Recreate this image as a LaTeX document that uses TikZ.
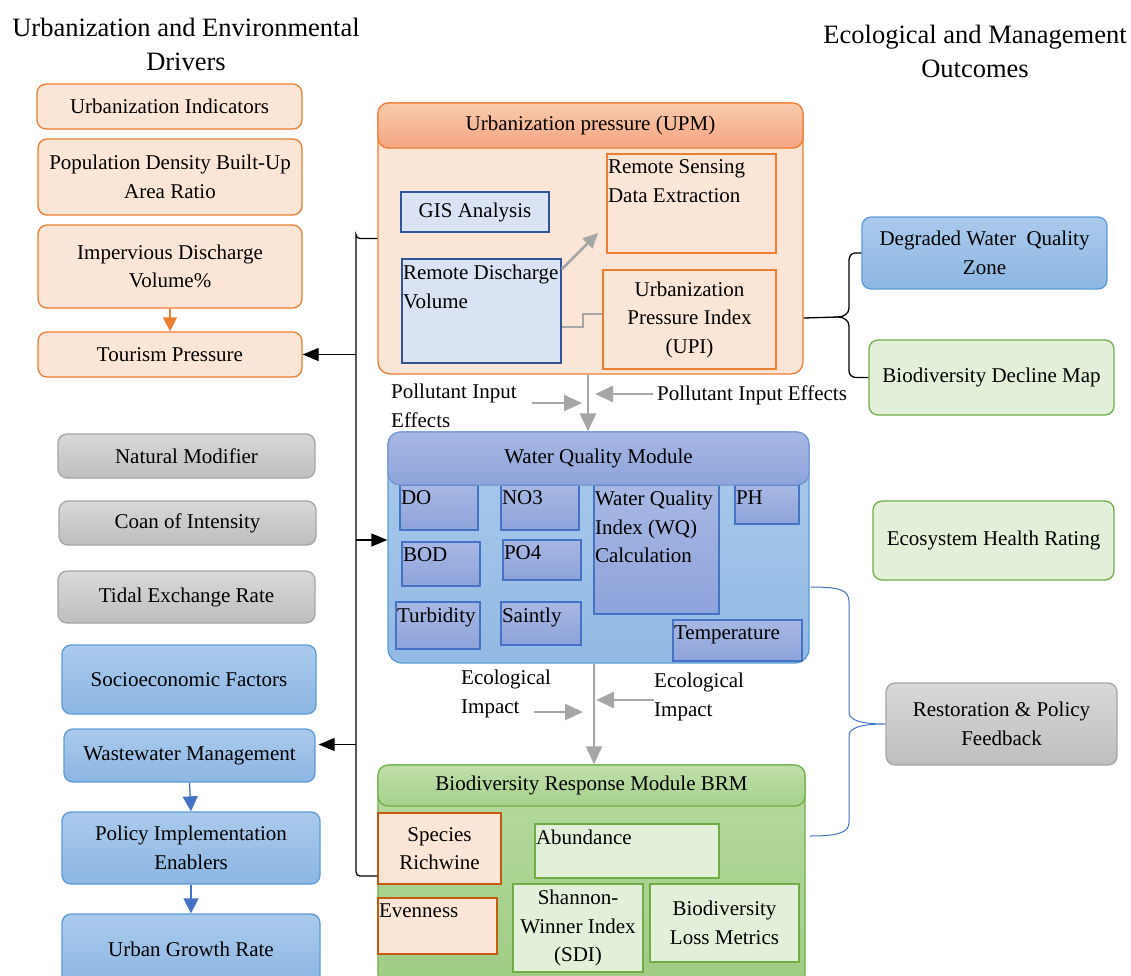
\documentclass[tikz,border=0pt]{standalone}
\usepackage{fontspec}
\setmainfont{Liberation Serif}
\usetikzlibrary{arrows.meta}
\definecolor{orFill}{HTML}{FBE5D6}
\definecolor{orLine}{HTML}{ED7D31}
\definecolor{orDark}{HTML}{C55A11}
\definecolor{orHeadTop}{HTML}{F8CBAD}
\definecolor{orHeadBot}{HTML}{F4A582}
\definecolor{grTop}{HTML}{D8D8D8}
\definecolor{grBot}{HTML}{BEBEBE}
\definecolor{grLine}{HTML}{A5A5A5}
\definecolor{blTop}{HTML}{AACAEC}
\definecolor{blBot}{HTML}{8DB6E3}
\definecolor{blLine}{HTML}{5B9BD5}
\definecolor{pvTop}{HTML}{A8B8E4}
\definecolor{pvBot}{HTML}{8DA3DA}
\definecolor{pvLine}{HTML}{4472C4}
\definecolor{ltGreen}{HTML}{E2F0D9}
\definecolor{gnLine}{HTML}{70AD47}
\definecolor{gnTop}{HTML}{B7DAA1}
\definecolor{gnBot}{HTML}{9FCC83}
\definecolor{gnHeadTop}{HTML}{BFDFAA}
\definecolor{gnHeadBot}{HTML}{A6D18C}
\definecolor{paleBlue}{HTML}{DAE3F3}
\definecolor{navyLine}{HTML}{2F5597}
\definecolor{arGray}{HTML}{A6A6A6}
\begin{document}
\begin{tikzpicture}[x=1pt, y=-1pt,
        every node/.style={font=\fontsize{21}{28.5}\selectfont},
        headtxt/.style={font=\fontsize{26.5}{34}\selectfont, align=center},
        box/.style={rectangle, draw, line width=1.3pt, align=center, inner sep=2pt},
        orbox/.style={box, rounded corners=9pt, fill=orFill, draw=orLine},
        grbox/.style={box, rounded corners=9pt, top color=grTop, bottom color=grBot, draw=grLine},
        blbox/.style={box, rounded corners=9pt, top color=blTop, bottom color=blBot, draw=blLine},
        lgbox/.style={box, rounded corners=9pt, fill=ltGreen, draw=gnLine},
        sqbox/.style={box, rounded corners=0pt},
        wqitem/.style={sqbox, top color=pvTop, bottom color=pvBot, draw=pvLine},
        tl/.style={label={[anchor=north west, inner sep=1.5pt, yshift=-5pt, align=left]north west:#1}},
        karrow/.style={-{Triangle[length=16pt, width=13pt]}, line width=1.3pt},
        garrow/.style={-{Triangle[length=18pt, width=16pt]}, line width=2.5pt, draw=arGray, color=arGray},
        oarrow/.style={-{Triangle[length=14pt, width=14pt]}, line width=1.3pt, draw=orLine, color=orLine},
        barrow/.style={-{Triangle[length=15pt, width=15pt]}, line width=1.3pt, draw=pvLine, color=pvLine},
        note/.style={align=left, anchor=west, inner sep=1pt}
      ]
      \path[use as bounding box, clip] (0,0) rectangle (1131,975);

      % column headings
      \node[headtxt] (hdrivers) at (186,44) {Urbanization and Environmental\\Drivers};
      \node[headtxt] (houtcomes) at (975,51) {Ecological and Management\\Outcomes};

      % drivers
      \node[orbox, minimum width=265, minimum height=45] (ind) at (169.5,106.5) {Urbanization Indicators};
      \node[orbox, minimum width=264, minimum height=76] (pop) at (170,177) {Population Density Built-Up\\Area Ratio};
      \node[orbox, minimum width=264, minimum height=83] (imp) at (170,266.5) {Impervious Discharge\\Volume\%};
      \node[orbox, minimum width=264, minimum height=45] (tour) at (170,354.5) {Tourism Pressure};
      \node[grbox, minimum width=257, minimum height=44] (nat) at (186.5,456) {Natural Modifier};
      \node[grbox, minimum width=257, minimum height=44] (coan) at (187.5,523) {Coan of Intensity};
      \node[grbox, minimum width=257, minimum height=52] (tidal) at (186.5,597) {Tidal Exchange Rate};
      \node[blbox, minimum width=254, minimum height=69] (socio) at (189,679.5) {Socioeconomic Factors};
      \node[blbox, minimum width=251, minimum height=53] (waste) at (189.5,755.5) {Wastewater Management};
      \node[blbox, minimum width=258, minimum height=72] (policy) at (191,848) {Policy Implementation\\Enablers};
      \node[blbox, minimum width=258, minimum height=70] (growth) at (191,949) {Urban Growth Rate};
      \draw[oarrow] (imp.south) -- (tour.north);
      \draw[barrow] (waste.south) -- (policy.north);
      \draw[barrow] (policy.south) -- (growth.north);

      % urbanization pressure module
      \node[orbox, rounded corners=12pt, minimum width=425, minimum height=271] (upm) at (590.5,238.5) {};
      \node[box, rounded corners=10pt, top color=orHeadTop, bottom color=orHeadBot, draw=orLine,
        minimum width=425, minimum height=45] (upmhead) at (590.5,125.5) {Urbanization pressure (UPM)};
      \node[sqbox, fill=paleBlue, draw=navyLine, minimum width=148, minimum height=40] (gis) at (475,212) {GIS Analysis};
      \node[sqbox, fill=paleBlue, draw=navyLine, minimum width=159, minimum height=104,
        tl={Remote Discharge\\Volume}] (rdv) at (481.5,311) {};
      \node[sqbox, fill=orFill, draw=orLine, minimum width=169, minimum height=99,
        tl={Remote Sensing\\Data Extraction}] (rsd) at (691.5,203.5) {};
      \node[sqbox, fill=orFill, draw=orLine, minimum width=173, minimum height=99] (upi) at (689.5,319.5)
      {Urbanization\\Pressure Index\\(UPI)};
      \coordinate (rsdtip) at (598,233);
      \draw[garrow, -{Triangle[length=15pt, width=14pt]}] ([yshift=-11pt]rdv.north east) -- (rsdtip);
      \draw[line width=2.5pt, draw=arGray] ([yshift=-16pt]rdv.east) -| (583,314) -- ([yshift=5.5pt]upi.west);

      % water quality module
      \node[box, rounded corners=14pt, top color=blTop, bottom color=blBot!95!white, draw=blLine,
        minimum width=421, minimum height=231] (wqm) at (598.5,547.5) {};
      \node[wqitem, minimum width=78, minimum height=45, tl=DO] (do) at (439,507.5) {};
      \node[wqitem, minimum width=78, minimum height=45, tl=NO3] (no3) at (540,507.5) {};
      \node[wqitem, minimum width=125, minimum height=129,
        tl={Water Quality\\Index (WQ)\\Calculation}] (wqi) at (656.5,549.5) {};
      \node[wqitem, minimum width=64, minimum height=39, tl=PH] (ph) at (767,504.5) {};
      \node[wqitem, minimum width=78, minimum height=44, tl=BOD] (bod) at (441,564) {};
      \node[wqitem, minimum width=78, minimum height=40, tl=PO4] (po4) at (542,560) {};
      \node[wqitem, minimum width=84, minimum height=47, tl=Turbidity] (turb) at (438,625.5) {};
      \node[wqitem, minimum width=80, minimum height=43, tl=Saintly] (saint) at (541,623.5) {};
      \node[wqitem, minimum width=129, minimum height=41, tl=Temperature] (temp) at (737.5,640.5) {};
      \node[box, rounded corners=12pt, top color=pvTop, bottom color=pvBot, draw=pvLine!75!white,
        minimum width=421, minimum height=53] (wqmhead) at (598.5,458.5) {Water Quality Module};

      % biodiversity response module
      \node[box, rounded corners=14pt, top color=gnTop, bottom color=gnBot, draw=gnLine,
        minimum width=427, minimum height=222] (brm) at (591.5,876) {};
      \node[box, rounded corners=10pt, top color=gnHeadTop, bottom color=gnHeadBot, draw=gnLine,
        minimum width=427, minimum height=41] (brmhead) at (591.5,785.5) {Biodiversity Response Module BRM};
      \node[sqbox, fill=orFill, draw=orDark, minimum width=123, minimum height=71] (spr) at (439.5,848.5) {Species\\Richwine};
      \node[sqbox, fill=orFill, draw=orDark, minimum width=119, minimum height=56, tl=Evenness] (even) at (437.5,926) {};
      \node[sqbox, fill=ltGreen, draw=gnLine, minimum width=184, minimum height=54, tl=Abundance] (abund) at (627,851) {};
      \node[sqbox, fill=ltGreen, draw=gnLine, minimum width=130, minimum height=88] (sdi) at (578,928) {Shannon-\\Winner Index\\(SDI)};
      \node[sqbox, fill=ltGreen, draw=gnLine, minimum width=149, minimum height=78] (blm) at (724.5,923) {Biodiversity\\Loss Metrics};

      % flow between modules
      \draw[garrow] ([xshift=-2.5pt]upm.south) -- ([xshift=-10.5pt]wqm.north);
      \node[note] (pieleft) at (390,406) {Pollutant Input\\Effects};
      \node[note] (pieright) at (656,395) {Pollutant Input Effects};
      \coordinate (pie1) at (532,403);
      \coordinate (pie2) at (582,403);
      \coordinate (pie3) at (653,394);
      \coordinate (pie4) at (595,394);
      \draw[garrow] (pie1) -- (pie2);
      \draw[garrow] (pie3) -- (pie4);
      \draw[garrow] ([xshift=-4.5pt]wqm.south) -- ([xshift=2.5pt]brm.north);
      \node[note] (eileft) at (460,694) {Ecological\\Impact};
      \node[note] (eiright) at (653,697) {Ecological\\Impact};
      \coordinate (ei1) at (534,712);
      \coordinate (ei2) at (583,712);
      \coordinate (ei3) at (654,700);
      \coordinate (ei4) at (596,700);
      \draw[garrow] (ei1) -- (ei2);
      \draw[garrow] (ei3) -- (ei4);

      % outcomes
      \node[blbox, minimum width=245, minimum height=72] (deg) at (984.5,253) {Degraded Water\ \ Quality\\Zone};
      \node[lgbox, minimum width=245, minimum height=75] (dec) at (991.5,377.5) {Biodiversity Decline Map};
      \node[lgbox, minimum width=241, minimum height=79] (eco) at (993.5,540.5) {Ecosystem Health Rating};
      \node[grbox, minimum width=231, minimum height=82] (rest) at (1001.5,724) {Restoration \& Policy\\Feedback};

      % left bracket
      \coordinate (lb) at (356,0);
      \draw[line width=1.3pt, rounded corners=4pt] (upm.west) -| (lb |- upm.west) -- (lb |- brm.west) -- (brm.west);
      \draw[karrow] (lb |- tour.east) -- (tour.east);
      \draw[karrow] ([yshift=7.5pt]lb |- wqm.west) -- ([yshift=7.5pt]wqm.west);
      \draw[karrow] ([yshift=11pt]lb |- waste.east) -- ([yshift=11pt, xshift=3pt]waste.east);

      % right brace to outcomes
      \coordinate (rbtip) at (838,317);
      \draw[line width=1.3pt] ([yshift=-79.5pt]upm.east) -- (rbtip);
      \draw[line width=1.3pt] (deg.west) -- (855,253) to[out=180, in=90] (849,260) -- (849,308)
        to[out=-90, in=0] (rbtip) to[out=0, in=90] (849,326) -- (849,371)
        to[out=-90, in=180] (856,377.5) -- (dec.west);

      % feedback brace
      \draw[line width=1pt, draw=pvLine] ([xshift=1pt, yshift=-39.5pt]wqm.east)
        .. controls (840,587) and (849,590) .. (849,602) -- (849,712)
        .. controls (849,720) and (860,724) .. (rest.west)
        .. controls (860,724) and (849,728) .. (849,736) -- (849,822)
        .. controls (849,832) and (840,836) .. ([xshift=4pt, yshift=40pt]brm.east);
    \end{tikzpicture}
\end{document}
